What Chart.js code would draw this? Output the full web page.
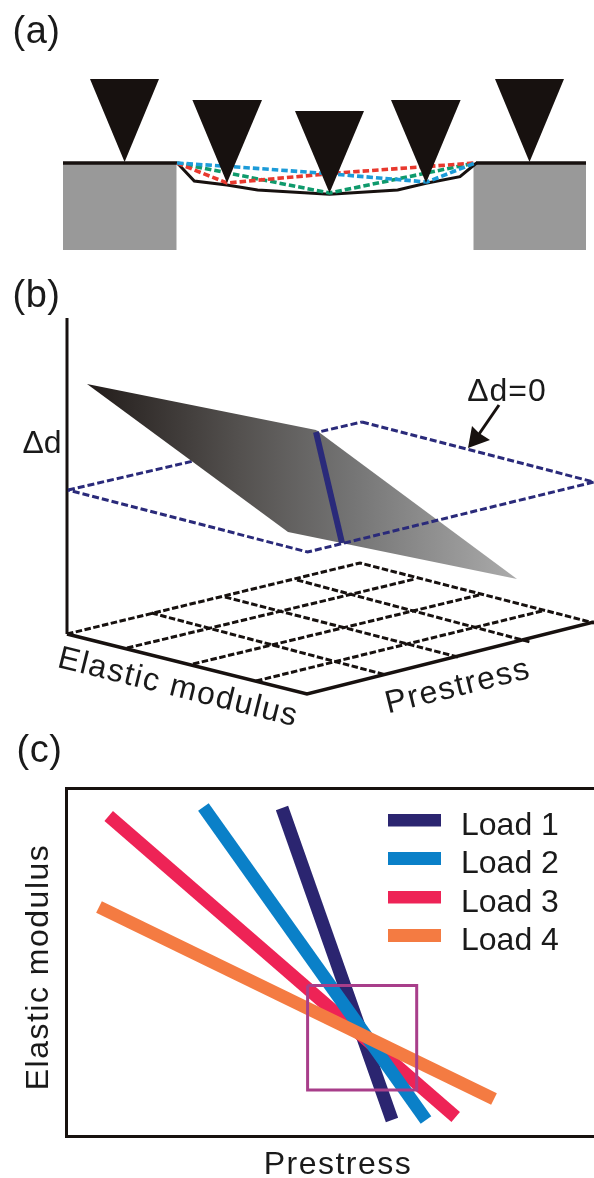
<!DOCTYPE html>
<html><head><meta charset="utf-8">
<script src="https://cdn.jsdelivr.net/npm/chart.js@4/dist/chart.umd.min.js"></script>
<style>
html,body{margin:0;padding:0;background:#fff;overflow:hidden}
#page{position:relative;width:594px;height:1178px;overflow:hidden}
canvas{position:absolute;left:0;display:block}
</style></head><body>
<div id="page">
<canvas id="a" width="594" height="270" style="top:0"></canvas>
<canvas id="b" width="594" height="460" style="top:270px"></canvas>
<canvas id="c" width="594" height="448" style="top:730px"></canvas>
</div>
<script>
// ---- Panel (a): clamped membrane probed by a tip
const tip1=[[90,79],[159,79],[124.6,162]];
const tip2=[[192.4,100],[262,100],[227,183]];
const tip3=[[295,111],[364,111],[329.5,193]];
const tip4=[[391,100],[460.6,100],[426,183]];
const tip5=[[495,79],[564,79],[529.5,162]];
const blockLeft=[[63,164],[176.5,164],[176.5,250],[63,250]];
const blockRight=[[473.5,164],[586,164],[586,250],[473.5,250]];
const surfaceLeft=[[63,163],[177,163]];
const surfaceRight=[[476,163],[586,163]];
const membrane=[[177.3,163],[194.3,181],[227,185],[257.6,190],[329.5,194.3],[397.7,190],[426,183.3],[460,176.7],[476.5,163]];
const deflectBlue=[[177,163],[237,167],[320,173],[427,182],[475,163]];
const deflectRed=[[177,163],[227,183],[337,173],[475,163]];
const deflectGreen=[[177,163],[329.5,193],[475,163]];

// ---- Panel (b): surface over the modulus / prestress plane
const axisVertical=[[67,318],[67,634]];
const axisFloor=[[67,634],[307,694],[594,622]];
const floorEdges=[[67,634],[360,563],[594,623]];
const floorA=[[127,648],[415,579]];
const floorB=[[193,664],[479,595]];
const floorC=[[256,681],[542,611]];
const floorD=[[151.5,613],[386,675]];
const floorE=[[225,597],[458,657]];
const floorF=[[297,580],[530,642]];
const planeBack=[[68,490],[362,422]];
const planeFront=[[362,422],[594,482],[307.6,552],[68,490]];
const surfacePatch=[[87,384],[316,430],[517,579],[288,532]];
const zeroLine=[[316,432],[342,543]];
const arrowShaft=[[499,405],[477,437]];
const arrowHead=[[468,448],[472,426],[479,433],[490,440]];

// ---- Panel (c): crossing load lines
const loadNames=['Load 1','Load 2','Load 3','Load 4'];
const load1=[[216,328],[326,16]];
const load2=[[137.4,329],[360,16]];
const load3=[[42.7,320],[389.7,19]];
const load4=[[33,229],[428,37]];
const regionBox=[[241.6,150.4],[350.7,150.4],[350.7,46],[241.6,46],[241.6,150.4]];

const INK='#17110f', FONT='"Liberation Sans", Arial, sans-serif';
const pts=a=>a.map(p=>({x:p[0],y:p[1]}));
const line=(d,color,width,dash)=>({data:pts(d),showLine:true,fill:false,borderColor:color,borderWidth:width,borderDash:dash||[],pointRadius:0,tension:0,borderCapStyle:'butt',borderJoinStyle:'miter'});
const poly=(d,color)=>({data:pts(d),showLine:true,fill:'shape',backgroundColor:color,borderWidth:0,pointRadius:0,tension:0});
const layered=l=>l.map((d,i)=>Object.assign(d,{order:l.length-i}));

const notesPlugin={id:'notes',afterDatasetsDraw(chart,args,opts){
  const ctx=chart.ctx,X=chart.scales.x,Y=chart.scales.y;
  (opts.items||[]).forEach(n=>{
    ctx.save();
    ctx.translate(X.getPixelForValue(n.x),Y.getPixelForValue(n.y));
    ctx.rotate((n.rot||0)*Math.PI/180);
    ctx.font=(n.size||32)+'px '+FONT;
    ctx.letterSpacing=(n.ls==null?1.5:n.ls)+'px';
    ctx.fillStyle='#1a1a1a';ctx.textAlign='center';ctx.textBaseline='middle';
    ctx.fillText(n.text,0,0);
    ctx.restore();
  });
}};
const hiddenAxes=(w,h)=>({x:{type:'linear',display:false,min:0,max:w},y:{type:'linear',display:false,reverse:true,min:0,max:h}});
const base=(scales,items)=>({responsive:false,animation:false,events:[],devicePixelRatio:1,layout:{padding:0},scales,
  plugins:{legend:{display:false},tooltip:{enabled:false},title:{display:false},notes:{items}}});

// Panel (a)
const BLUE='#1c9bd8',RED='#e8392e',GREEN='#0f9a6c';
const DASH_A=[6.5,3], DASH_F=[6.5,2.5], DASH_P=[7,3];
new Chart(document.getElementById('a'),{type:'scatter',plugins:[notesPlugin],data:{datasets:layered([
  poly(blockLeft,'#999999'),poly(blockRight,'#999999'),
  line(surfaceLeft,INK,3.5),line(surfaceRight,INK,3.5),
  line(membrane,INK,3),
  line(deflectGreen,GREEN,3.6,DASH_A),line(deflectRed,RED,3.6,DASH_A),line(deflectBlue,BLUE,3.6,DASH_A),
  poly(tip1,INK),poly(tip2,INK),poly(tip3,INK),poly(tip4,INK),poly(tip5,INK)
])},options:base(hiddenAxes(594,270),[{text:'(a)',x:36.5,y:33,size:38,ls:.5}])});

// Panel (b) uses the page's y offset of 270
const off=a=>a.map(p=>[p[0],p[1]-270]);
const NAVY='#2a2a7a';
const surfaceFill=ctx=>{
  const g=ctx.chart.ctx.createLinearGradient(87,0,517,0);
  g.addColorStop(0,'#221c1a');g.addColorStop(.35,'#53504e');g.addColorStop(.62,'#757575');g.addColorStop(1,'#ababab');
  return g;
};
const patch=poly(off(surfacePatch),'#666');patch.backgroundColor=surfaceFill;
new Chart(document.getElementById('b'),{type:'scatter',plugins:[notesPlugin],data:{datasets:layered([
  line(off(floorEdges),INK,3,DASH_F),
  line(off(floorA),INK,3,DASH_F),line(off(floorB),INK,3,DASH_F),line(off(floorC),INK,3,DASH_F),
  line(off(floorD),INK,3,DASH_F),line(off(floorE),INK,3,DASH_F),line(off(floorF),INK,3,DASH_F),
  line(off(axisVertical),INK,3),line(off(axisFloor),INK,3.5),
  line(off(planeBack),NAVY,3,DASH_P),
  patch,
  line(off(planeFront),NAVY,3,DASH_P),
  line(off(zeroLine),NAVY,6),
  line(off(arrowShaft),INK,3),poly(off(arrowHead),INK)
])},options:base(hiddenAxes(594,460),[
  {text:'(b)',x:36.5,y:27,size:38,ls:.5},
  {text:'\u0394d',x:42,y:174,ls:0},
  {text:'\u0394d=0',x:507,y:122,ls:1},
  {text:'Elastic modulus',x:178,y:418,rot:14},
  {text:'Prestress',x:458,y:417,rot:-14}
])});

// Panel (c)
const swatch=color=>{const s=document.createElement('canvas');s.width=57;s.height=25;const g=s.getContext('2d');g.fillStyle=color;g.fillRect(0,0,53,13);return s;};
const shiftTitle=(scale,ctx,dx,dy)=>{const t=scale.drawTitle;scale.drawTitle=function(){ctx.save();ctx.translate(dx,dy);t.call(this);ctx.restore();};};
const placeLegend={id:'placeLegend',beforeDraw(chart){
  const ctx=chart.ctx,L=chart.legend;
  ctx.letterSpacing='1.5px';
  L.left=381.5;L.right=594;L.top=73.5;L.bottom=300;
  const d=L.draw;L.draw=function(){ctx.letterSpacing='0px';d.call(this);ctx.letterSpacing='1.5px';};
  shiftTitle(chart.scales.x,ctx,8,1);
  shiftTitle(chart.scales.y,ctx,0,5);
}};
const loadColors=['#2b2570','#0a80c8','#ee2356','#f47b42'];
const loadSets=[load1,load2,load3,load4].map((d,i)=>{
  const s=line(d,loadColors[i],13);s.label=loadNames[i];s.backgroundColor=loadColors[i];
  s.order=[4,2,3,1][i];s.pointStyle=swatch(loadColors[i]);return s;});
const box=line(regionBox,'#a83e8a',3);box.order=0;box.label='';
const frame={display:true,color:INK,width:3};
const optsC=base({
  x:{type:'linear',position:'bottom',min:0,max:528,ticks:{display:false},grid:{display:false},border:frame,
     title:{display:true,text:'Prestress',color:'#1a1a1a',font:{family:FONT,size:32,lineHeight:.8},padding:1},
     afterFit(s){s.height=42;}},
  x2:{type:'linear',axis:'x',position:'top',min:0,max:528,ticks:{display:false},grid:{display:false},border:frame,
     afterFit(s){s.height=0;}},
  y:{type:'linear',position:'left',min:0,max:348,ticks:{display:false},grid:{display:false},border:frame,
     title:{display:true,text:'Elastic modulus',color:'#1a1a1a',font:{family:FONT,size:32,lineHeight:1.2},padding:{top:20,bottom:0}},
     afterFit(s){s.width=66;}}
},[{text:'(c)',x:-26.5,y:384,size:38,ls:.5}]);
optsC.layout.padding={top:58,left:0,right:0,bottom:0};
optsC.plugins.legend={display:true,position:'chartArea',align:'start',
  labels:{usePointStyle:true,pointStyleWidth:57,boxHeight:13,padding:6.5,color:'#1a1a1a',font:{family:FONT,size:32},
    filter:i=>i.text!=='',sort:(a,b)=>a.datasetIndex-b.datasetIndex}};
new Chart(document.getElementById('c'),{type:'scatter',plugins:[placeLegend,notesPlugin],
  data:{datasets:[...loadSets,box]},options:optsC});
</script>
</body></html>
